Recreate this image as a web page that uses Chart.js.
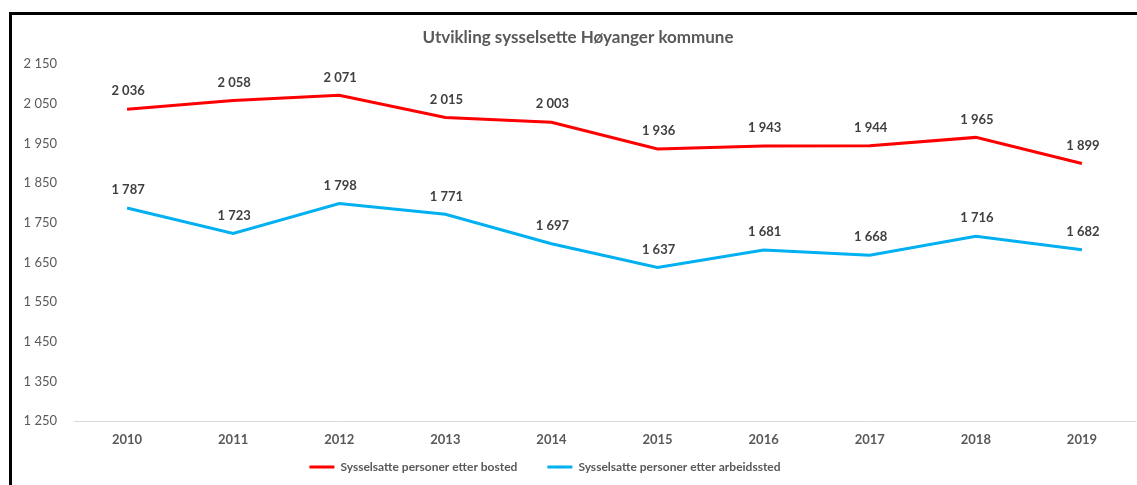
<!DOCTYPE html>
<html>
<head>
<meta charset="utf-8">
<script src="https://cdn.jsdelivr.net/npm/chart.js@4/dist/chart.umd.min.js"></script>
<style>
  html, body { margin: 0; padding: 0; background: #fff; overflow: hidden; }
  #wrap { position: relative; width: 1137px; height: 485px; }
  #frame { position: absolute; left: 9px; top: 12px; width: 1200px; height: 600px;
           border-left: 3px solid #000; border-top: 3px solid #000; pointer-events: none; }
  canvas { position: absolute; left: 0; top: 0; }
</style>
</head>
<body>
<div id="wrap">
  <canvas id="c" width="1137" height="485"></canvas>
  <div id="frame"></div>
</div>
<script>
const categories = ['2010','2011','2012','2013','2014','2015','2016','2017','2018','2019'];
const bosted = [2036, 2058, 2071, 2015, 2003, 1936, 1943, 1944, 1965, 1899];
const arbeidssted = [1787, 1723, 1798, 1771, 1697, 1637, 1681, 1668, 1716, 1682];
const seriesNames = ['Sysselsatte personer etter bosted', 'Sysselsatte personer etter arbeidssted'];
const yMin = 1250, yMax = 2150, yStep = 100;
const titleText = 'Utvikling sysselsette Høyanger kommune';

const FONT = 'Lato, "Open Sans", sans-serif';
const fmt = v => String(Math.round(v)).replace(/\B(?=(\d{3})+(?!\d))/g, ' ');

const dataLabels = {
  id: 'dataLabels',
  afterDatasetsDraw(chart) {
    const ctx = chart.ctx;
    ctx.save();
    ctx.font = 'bold 13px ' + FONT;
    ctx.fillStyle = '#404040';
    ctx.textAlign = 'center';
    ctx.textBaseline = 'middle';
    chart.data.datasets.forEach((ds, i) => {
      const meta = chart.getDatasetMeta(i);
      meta.data.forEach((pt, j) => {
        ctx.fillText(fmt(ds.data[j]), pt.x + 1, pt.y - 18);
      });
    });
    ctx.restore();
  }
};

const legendShift = {
  id: 'legendShift',
  afterUpdate(chart) {
    const lg = chart.legend;
    if (lg) { lg.left -= 33; lg.right -= 33; lg.top -= 17; lg.bottom -= 17; }
  }
};

new Chart(document.getElementById('c'), {
  type: 'line',
  data: {
    labels: categories,
    datasets: [
      { label: seriesNames[0], data: bosted, borderColor: '#ff0000', backgroundColor: '#ff0000',
        borderWidth: 3, pointRadius: 0, tension: 0 },
      { label: seriesNames[1], data: arbeidssted, borderColor: '#00b0f0', backgroundColor: '#00b0f0',
        borderWidth: 3, pointRadius: 0, tension: 0 }
    ]
  },
  options: {
    responsive: false,
    animation: false,
    layout: { padding: { left: 21, right: 2, top: 0, bottom: -15 } },
    plugins: {
      title: {
        display: true, text: titleText, color: '#595959',
        font: { family: FONT, size: 17, weight: 'bold' },
        padding: { top: 27.8, bottom: 15.8 }
      },
      legend: {
        position: 'bottom',
        labels: {
          boxWidth: 25, boxHeight: 0, padding: 30, color: '#595959',
          font: { family: FONT, size: 12, weight: 'bold' }
        }
      },
      tooltip: { enabled: false }
    },
    scales: {
      x: {
        offset: true,
        grid: { display: false, drawTicks: false },
        border: { display: true, color: '#d9d9d9', width: 1 },
        ticks: { color: '#595959', font: { family: FONT, size: 13, weight: 'bold' }, padding: 11, maxRotation: 0 },
        afterFit(s) { s.height = 27; }
      },
      y: {
        min: yMin, max: yMax,
        grid: { display: false, drawTicks: false },
        border: { display: false },
        ticks: { stepSize: yStep, color: '#595959', font: { family: FONT, size: 13 }, padding: 17,
                 callback: v => fmt(v) },
        afterFit(s) { s.width = 53; }
      }
    }
  },
  plugins: [dataLabels, legendShift]
});
</script>
</body>
</html>
